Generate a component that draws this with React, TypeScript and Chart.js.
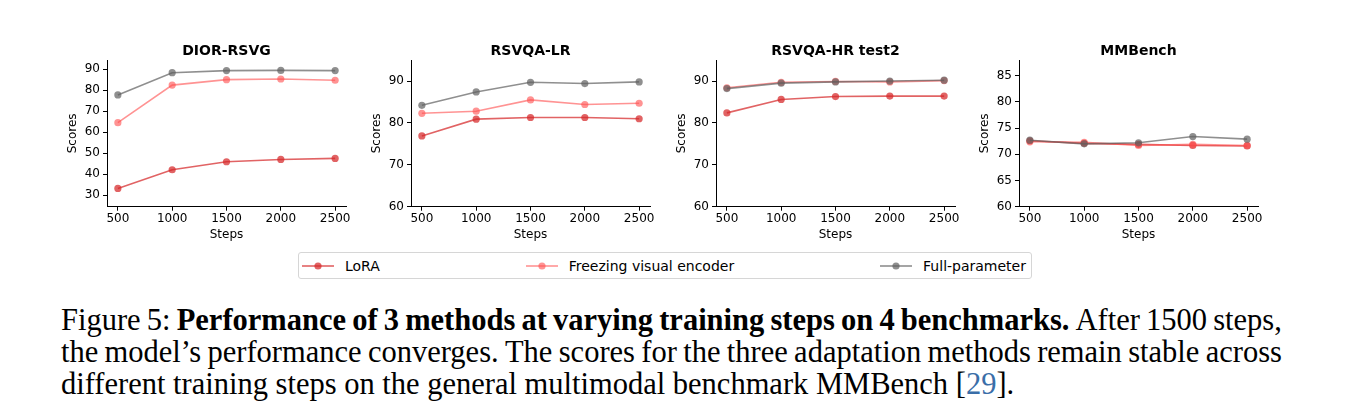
import React, { useEffect, useRef } from "react";
import { Chart, registerables } from "chart.js";

Chart.register(...registerables);

// ---------- data ----------
const steps = [500, 1000, 1500, 2000, 2500];
const panelTitles = ["DIOR-RSVG", "RSVQA-LR", "RSVQA-HR test2", "MMBench"];
const seriesNames = ["LoRA", "Freezing visual encoder", "Full-parameter"];

const loraDior = [33.3, 42.2, 46.0, 47.1, 47.6];
const freezeDior = [64.6, 82.5, 85.1, 85.4, 84.8];
const fullDior = [77.8, 88.4, 89.4, 89.5, 89.4];

const loraLR = [76.9, 80.9, 81.3, 81.3, 81.0];
const freezeLR = [82.3, 82.8, 85.5, 84.4, 84.7];
const fullLR = [84.2, 87.4, 89.7, 89.4, 89.8];

const loraHR = [82.4, 85.6, 86.3, 86.4, 86.4];
const freezeHR = [88.4, 89.7, 89.9, 89.8, 90.1];
const fullHR = [88.2, 89.5, 89.8, 90.0, 90.2];

const loraMM = [72.6, 72.1, 71.9, 71.7, 71.6];
const freezeMM = [72.4, 72.3, 71.7, 71.9, 71.7];
const fullMM = [72.7, 72.0, 72.2, 73.4, 72.9];

const yTicksDior = [30, 40, 50, 60, 70, 80, 90];
const yTicksLR = [60, 70, 80, 90];
const yTicksHR = [60, 70, 80, 90];
const yTicksMM = [60, 65, 70, 75, 80, 85];

const yMins = [24.6, 60, 60, 60];
const yMaxs = [94.4, 95, 95, 88];

const panelSeries = [
  [loraDior, freezeDior, fullDior],
  [loraLR, freezeLR, fullLR],
  [loraHR, freezeHR, fullHR],
  [loraMM, freezeMM, fullMM],
];
const panelYTicks = [yTicksDior, yTicksLR, yTicksHR, yTicksMM];

// caption text (segments: [text, bold])
const captionLine1: [string, boolean][] = [
  ["Figure 5:", false],
  ["Performance of 3 methods at varying training steps on 4 benchmarks.", true],
  ["After 1500 steps,", false],
];
const captionLine2: [string, boolean][] = [
  ["the model’s performance converges. The scores for the three adaptation methods remain stable across", false],
];
const captionLine3Text = "different training steps on the general multimodal benchmark MMBench [";
const captionCite = "29";

// ---------- styles ----------
const seriesColors = [
  "rgba(214,39,40,0.72)",
  "rgba(255,80,80,0.62)",
  "rgba(96,96,96,0.7)",
];
const plotLefts = [107, 411, 716, 1019];
const PLOT_W = 239;
const Y_AXIS_W = 50;
const RIGHT_PAD = 15;
const CANVAS_TOP = 30;
const CANVAS_H = 220;
const FONT = "'DejaVu Sans', sans-serif";

function Panel({ idx }: { idx: number }) {
  const ref = useRef<HTMLCanvasElement>(null);
  useEffect(() => {
    const canvas = ref.current;
    if (!canvas) return;
    const tickFont = { family: FONT, size: 12 };
    const datasets = panelSeries[idx].map((vals, i) => ({
      label: seriesNames[i],
      data: steps.map((s, j) => ({ x: s, y: vals[j] })),
      borderColor: seriesColors[i],
      backgroundColor: seriesColors[i],
      borderWidth: 1.6,
      pointRadius: 3.6,
      pointHoverRadius: 3.6,
      pointBorderWidth: 0,
      tension: 0,
      order: 2 - i,
    }));
    const yTicks = panelYTicks[idx];
    const chart = new Chart(canvas, {
      type: "line",
      data: { datasets },
      options: {
        animation: false,
        responsive: false,
        devicePixelRatio: 1,
        events: [],
        layout: { padding: { left: 0, right: RIGHT_PAD, top: 0, bottom: 0 } },
        plugins: {
          legend: { display: false },
          tooltip: { enabled: false },
          title: {
            display: true,
            text: panelTitles[idx],
            fullSize: false,
            color: "#000",
            font: { family: FONT, size: 14, weight: "bold", lineHeight: 1.2 },
            padding: { top: 13.3, bottom: 0 },
          },
        },
        scales: {
          x: {
            type: "linear",
            min: 400,
            max: 2600,
            afterBuildTicks: (s: any) => {
              s.ticks = steps.map((v) => ({ value: v }));
            },
            afterFit: (s: any) => {
              s.height = 43.3;
            },
            grid: {
              display: true,
              drawOnChartArea: false,
              drawTicks: true,
              tickLength: 4,
              color: "#000",
              lineWidth: 1,
            },
            border: { display: true, color: "#000", width: 1 },
            ticks: {
              font: tickFont,
              color: "#000",
              padding: 1,
              maxRotation: 0,
              autoSkip: false,
              callback: (v: any) => String(v),
            },
            title: {
              display: true,
              text: "Steps",
              color: "#000",
              font: { family: FONT, size: 12, lineHeight: 1.2 },
              padding: { top: 0, bottom: 7.8 },
            },
          },
          y: {
            type: "linear",
            min: yMins[idx],
            max: yMaxs[idx],
            afterBuildTicks: (s: any) => {
              s.ticks = yTicks.map((v) => ({ value: v }));
            },
            afterFit: (s: any) => {
              s.width = Y_AXIS_W;
            },
            grid: {
              display: true,
              drawOnChartArea: false,
              drawTicks: true,
              tickLength: 4,
              color: "#000",
              lineWidth: 1,
            },
            border: { display: true, color: "#000", width: 1 },
            ticks: {
              font: tickFont,
              color: "#000",
              padding: 3,
              autoSkip: false,
              callback: (v: any) => String(v),
            },
            title: {
              display: true,
              text: "Scores",
              color: "#000",
              font: { family: FONT, size: 12, lineHeight: 1.2 },
              padding: { top: 8.3, bottom: 0 },
            },
          },
        },
      } as any,
    });
    return () => chart.destroy();
  }, [idx]);
  const w = Y_AXIS_W + PLOT_W + RIGHT_PAD;
  return (
    <canvas
      ref={ref}
      width={w}
      height={CANVAS_H}
      style={{
        position: "absolute",
        left: plotLefts[idx] - Y_AXIS_W,
        top: CANVAS_TOP,
        width: w,
        height: CANVAS_H,
      }}
    />
  );
}

function Legend() {
  return (
    <div
      style={{
        position: "absolute",
        left: 298,
        top: 252,
        width: 734,
        height: 27,
        boxSizing: "border-box",
        border: "1px solid #d6d6d6",
        borderRadius: 3,
        display: "flex",
        alignItems: "center",
        justifyContent: "space-between",
        padding: "0 5px 0 3px",
        fontFamily: FONT,
        fontSize: 14,
        color: "#000",
        background: "#fff",
      }}
    >
      {seriesNames.map((n, i) => (
        <div key={n} style={{ display: "flex", alignItems: "center" }}>
          <svg width={32} height={10} style={{ display: "block" }}>
            <line x1={0} y1={5} x2={32} y2={5} stroke={seriesColors[i]} strokeWidth={1.6} />
            <circle cx={16} cy={5} r={3.6} fill={seriesColors[i]} />
          </svg>
          <span style={{ marginLeft: 11, whiteSpace: "nowrap" }}>{n}</span>
        </div>
      ))}
    </div>
  );
}

function JustifiedLine({ segs }: { segs: [string, boolean][] }) {
  const words: { w: string; b: boolean }[] = [];
  segs.forEach(([t, b]) => t.split(" ").forEach((w) => words.push({ w, b })));
  return (
    <div style={{ display: "flex", justifyContent: "space-between", height: 32, whiteSpace: "nowrap" }}>
      {words.map((x, i) => (
        <span key={i} style={{ fontWeight: x.b ? "bold" : "normal" }}>
          {x.w}
        </span>
      ))}
    </div>
  );
}

function Caption() {
  return (
    <div
      style={{
        position: "absolute",
        left: 61,
        top: 304,
        width: 1221,
        fontFamily: "'Liberation Serif', 'Times New Roman', serif",
        fontSize: 30.5,
        lineHeight: "32px",
        color: "#000",
      }}
    >
      <JustifiedLine segs={captionLine1} />
      <JustifiedLine segs={captionLine2} />
      <div style={{ height: 32, whiteSpace: "nowrap" }}>
        {captionLine3Text}
        <span style={{ color: "#3a6ea8" }}>{captionCite}</span>].
      </div>
    </div>
  );
}

export default function App() {
  return (
    <div
      style={{
        position: "absolute",
        left: 0,
        top: 0,
        width: 1355,
        height: 417,
        background: "#fff",
        overflow: "hidden",
      }}
    >
      {[0, 1, 2, 3].map((i) => (
        <Panel key={i} idx={i} />
      ))}
      <Legend />
      <Caption />
    </div>
  );
}
